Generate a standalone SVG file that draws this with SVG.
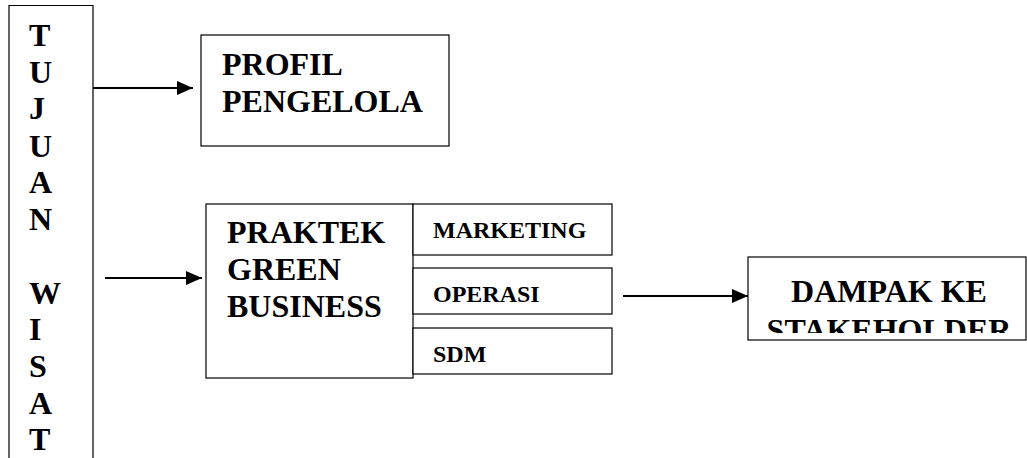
<svg xmlns="http://www.w3.org/2000/svg" width="1027" height="458" viewBox="0 0 1027 458">
<style>
.box{fill:#fff;stroke:#000;stroke-width:1.2}
text{font-family:"Liberation Serif","Times New Roman",serif;font-weight:bold;fill:#000}
.big{font-size:32px}
.small{font-size:24px}
.conn{stroke:#000;stroke-width:2;fill:none}
</style>
<defs>
<marker id="ah" markerWidth="16" markerHeight="14" refX="16" refY="7" orient="auto" markerUnits="userSpaceOnUse">
<path d="M0,0 L16,7 L0,14 Z" fill="#000"/>
</marker>
<clipPath id="clipD"><rect x="748" y="257" width="279" height="76"/></clipPath>
</defs>
<rect width="1027" height="458" fill="#fff"/>
<g id="tujuan">
<path class="box" d="M9,470 V5.5 H93 V470"/>
<text class="big">
<tspan x="29" y="46">T</tspan>
<tspan x="29" y="83">U</tspan>
<tspan x="29" y="119">J</tspan>
<tspan x="29" y="157">U</tspan>
<tspan x="29" y="193">A</tspan>
<tspan x="29" y="230">N</tspan>
<tspan x="29" y="304">W</tspan>
<tspan x="29" y="340">I</tspan>
<tspan x="29" y="377">S</tspan>
<tspan x="29" y="414">A</tspan>
<tspan x="29" y="450">T</tspan>
</text>
</g>
<g id="profil">
<rect class="box" x="201" y="35" width="248" height="111"/>
<text class="big"><tspan x="222" y="75">PROFIL</tspan><tspan x="222" y="112">PENGELOLA</tspan></text>
</g>
<g id="praktek">
<rect class="box" x="206" y="204" width="207" height="174"/>
<text class="big"><tspan x="227" y="243">PRAKTEK</tspan><tspan x="227" y="280">GREEN</tspan><tspan x="227" y="317">BUSINESS</tspan></text>
</g>
<g id="marketing">
<rect class="box" x="413" y="204" width="199" height="51"/>
<text class="small" x="433" y="238">MARKETING</text>
</g>
<g id="operasi">
<rect class="box" x="413" y="268" width="199" height="46"/>
<text class="small" x="433" y="302">OPERASI</text>
</g>
<g id="sdm">
<rect class="box" x="413" y="328" width="199" height="46"/>
<text class="small" x="433" y="362">SDM</text>
</g>
<g id="dampak">
<rect class="box" x="748" y="257" width="278" height="83"/>
<text class="big" text-anchor="middle" clip-path="url(#clipD)"><tspan x="889" y="302">DAMPAK KE</tspan><tspan x="889" y="341">STAKEHOLDER</tspan></text>
</g>
<g id="connectors">
<line class="conn" x1="93" y1="88" x2="193" y2="88" marker-end="url(#ah)"/>
<line class="conn" x1="105" y1="278" x2="202" y2="278" marker-end="url(#ah)"/>
<line class="conn" x1="623" y1="296" x2="748" y2="296" marker-end="url(#ah)"/>
</g>
</svg>
